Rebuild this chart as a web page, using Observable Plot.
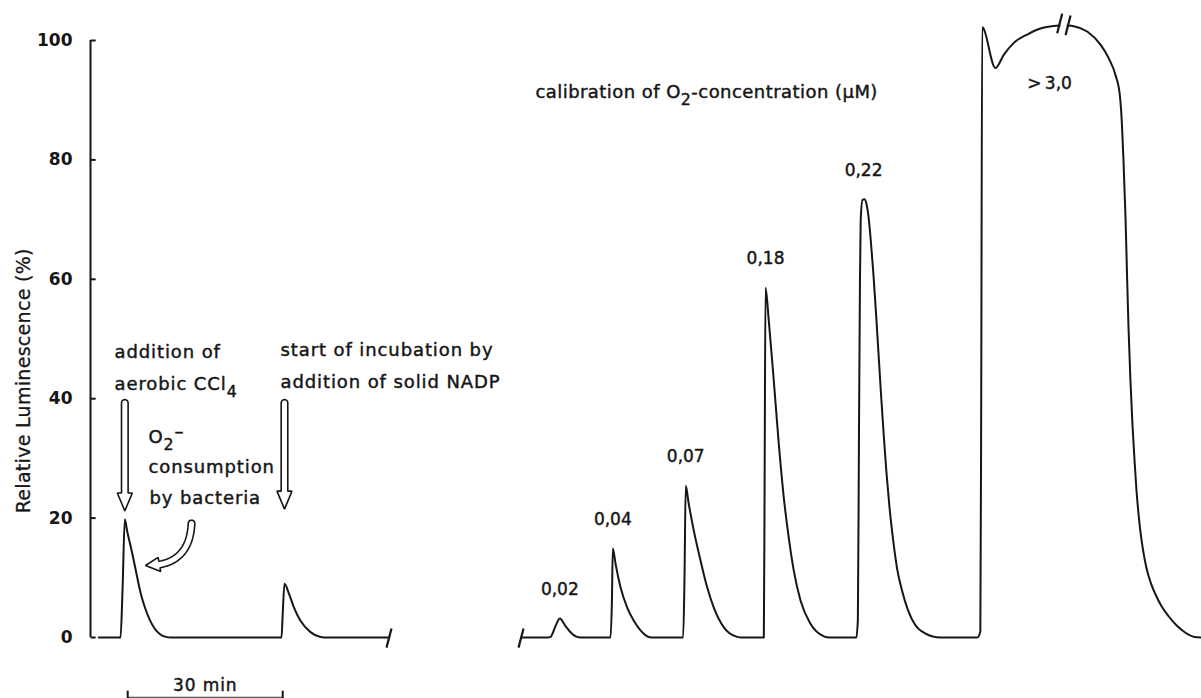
<!DOCTYPE html>
<html><head><meta charset="utf-8">
<script src="https://cdn.jsdelivr.net/npm/d3@7"></script>
<script src="https://cdn.jsdelivr.net/npm/@observablehq/plot@0.6"></script>
<style>
html,body{margin:0;padding:0;background:#fff;}
#chart svg{display:block;overflow:visible;}
</style>
</head><body><div id="chart"></div>
<script>
// ---------- data (x: minutes on recorder time axis, y: relative luminescence %) ----------
const yTicks = [0, 20, 40, 60, 80, 100];
const yTickLabels = ["0", "20", "40", "60", "80", "100"];

const traceLeft = [
  [1.6,0],[5.81,0],[6.2,8],[6.64,19.8],[7.1,17.8],[7.6,15.9],[8.2,13.6],[8.8,11.1],[9.4,8.6],[10.0,6.5],[10.7,4.6],[11.5,2.9],[12.4,1.5],[13.4,0.6],[14.6,0.1],[15.5,0],
  [36.96,0],[37.2,4],[37.54,9.0],[38.38,7.4],[39.34,5.1],[40.64,2.8],[42.57,0.9],[44.51,0.1],[46,0],[57.67,0]
];
const traceRight = [
  [83.41,0],[88.44,0],[89.02,0.1],[89.99,1.9],[90.82,3.2],[91.92,1.9],[93.22,0.6],[94.83,0],
  [100.63,0],[100.9,6],[101.08,14.9],[101.6,12.4],[102.57,8.4],[103.86,5.0],[105.14,2.8],[106.44,1.2],[108.03,0.1],[109,0],
  [114.69,0],[114.95,10],[115.19,25.4],[115.77,22.4],[116.75,17.9],[118.05,12.9],[119.34,8.4],[120.62,5.0],[122.56,1.7],[125.15,0.1],[126,0],
  [130.3,0],[130.45,25],[130.63,58.6],[131.27,53],[132.23,43],[133.2,32.4],[134.17,23.4],[135.13,16.7],[136.1,11.2],[137.4,6.2],[139.33,2.3],[141.91,0.2],[143,0],
  [148.2,0],[148.5,3],[148.72,35],[148.91,60],[149.05,70],[149.4,73.3],[149.78,73.4],[150.17,72.6],[150.56,70.5],[151.0,66.5],[151.5,61],[152.0,54.5],[152.5,47.5],[153.0,40.5],[153.5,34],[154.0,28],[154.6,22],[155.3,16.5],[156.1,11.5],[157.0,8],[158.2,4.6],[159.6,2.1],[161.5,0.7],[164.5,0],
  [171.6,0],[172.2,1],[172.37,40],[172.56,102.2],[175.13,95.4],[176.74,97.6],[178.68,99.6],[181.27,101],[183.84,102],[187.52,102.5]
];
const traceTop = [
  [189.07,102.5],[190.29,102.4],[192.88,101.5],[195.46,99.3],[197.06,97],[198.36,94.2],[199.19,90.9],[199.6,86],[199.9,80],[200.1,75],[200.29,70.5],
  [200.55,62],[200.87,52],[201.25,43],[201.65,35.5],[202.05,29.5],[202.42,24.6],[202.8,20.8],[203.2,17.6],[203.7,14.6],[204.36,11.6],[205.2,9.1],
  [206.1,7.2],[207.3,5.2],[208.6,3.6],[210.2,2.0],[211.9,0.8],[213.6,0.1],[215,0]
];

const peakConc = ["0,02", "0,04", "0,07", "0,18", "0,22"];
const peakTime = [90.82, 101.08, 115.19, 130.63, 149.6];
const peakLum  = [3.2, 14.9, 25.4, 58.6, 73.3];

// text annotations [x (min), y (%), text]
const notesLeftAligned = [
  [4.64, 47.7, "addition of"],
  [4.64, 42.5, "aerobic CCl₄"],
  [36.77, 48.1, "start of incubation by"],
  [36.77, 42.7, "addition of solid NADP"],
  [11.22, 33.6, "O₂⁻"],
  [11.22, 28.5, "consumption"],
  [11.4, 23.3, "by bacteria"],
  [86.1, 91.4, "calibration of O₂-concentration (μM)"]
];
const overLabel = [[185.6, 92.8, ">\u20093,0"]];

// hollow arrows: centre lines in data units [x (min), y (%)]
const arrowStraight = [
  [[6.64, 39.3], [6.64, 21.2]],
  [[37.54, 39.3], [37.54, 21.5]]
];
const arrowCurvedCtrl = [[19.55, 19.1], [19.16, 11.9], [10.64, 12.06]];

// broken-axis marks [x1, y1, x2, y2]
const breakMarks = [
  [57.28, -1.7, 58.25, 1.5],
  [82.83, -1.7, 83.8, 1.5],
  [187.07, 101.2, 188.04, 104.5],
  [188.69, 100.9, 189.66, 104.2]
];

// time scale bar (30 min)
const scaleBar = [7.2, 37.2];
const scaleBarLabel = "30 min";

// ---------- layout ----------
const W = 1201, H = 698, mL = 90, mR = 0, mT = 40, mB = 61;
const xDomain = [0, 215], yDomain = [0, 100];
const sx = d3.scaleLinear(xDomain, [mL, W - mR]);
const sy = d3.scaleLinear(yDomain, [H - mB, mT]);

function hollowArrow(ptsPx, hw, HW, HL) {
  const L = [0];
  for (let i = 1; i < ptsPx.length; i++) {
    L.push(L[i-1] + Math.hypot(ptsPx[i][0]-ptsPx[i-1][0], ptsPx[i][1]-ptsPx[i-1][1]));
  }
  const total = L[L.length-1];
  function at(s) {
    let i = 1;
    while (i < L.length - 1 && L[i] < s) i++;
    const a = ptsPx[i-1], b = ptsPx[i];
    const seg = L[i] - L[i-1] || 1;
    const f = Math.max(0, Math.min(1, (s - L[i-1]) / seg));
    const d = [(b[0]-a[0])/seg, (b[1]-a[1])/seg];
    return [[a[0] + (b[0]-a[0])*f, a[1] + (b[1]-a[1])*f], d];
  }
  const base = total - HL, N = 40, left = [], right = [];
  for (let k = 0; k <= N; k++) {
    const [p, d] = at(base * k / N);
    const n = [-d[1], d[0]];
    left.push([p[0] + n[0]*hw, p[1] + n[1]*hw]);
    right.push([p[0] - n[0]*hw, p[1] - n[1]*hw]);
  }
  const [pb, db] = at(base);
  const nb = [-db[1], db[0]];
  const tip = ptsPx[ptsPx.length-1];
  const [p0, d0] = at(0);
  const n0 = [-d0[1], d0[0]];
  const cap = [];
  for (let k = 1; k < 12; k++) {
    const th = Math.PI * k / 12;
    const vx = -n0[0]*Math.cos(th) - d0[0]*Math.sin(th);
    const vy = -n0[1]*Math.cos(th) - d0[1]*Math.sin(th);
    cap.push([p0[0] + vx*hw, p0[1] + vy*hw]);
  }
  const poly = [
    ...left,
    [pb[0] + nb[0]*HW, pb[1] + nb[1]*HW],
    tip,
    [pb[0] - nb[0]*HW, pb[1] - nb[1]*HW],
    ...right.slice().reverse(),
    ...cap,
    left[0]
  ];
  return poly.map(([x, y]) => ({x: sx.invert(x), y: sy.invert(y)}));
}

const arrowPolys = [];
arrowStraight.forEach(c => {
  arrowPolys.push(hollowArrow(c.map(([t, v]) => [sx(t), sy(v)]), 3.3, 7.5, 18));
});
{
  const P = arrowCurvedCtrl.map(([t, v]) => [sx(t), sy(v)]);
  const pts = d3.range(0, 61).map(k => {
    const u = k / 60;
    return [
      (1-u)*(1-u)*P[0][0] + 2*(1-u)*u*P[1][0] + u*u*P[2][0],
      (1-u)*(1-u)*P[0][1] + 2*(1-u)*u*P[1][1] + u*u*P[2][1]
    ];
  });
  arrowPolys.push(hollowArrow(pts, 3.3, 7.2, 14));
}

const ink = "#161616";
const FONT = "DejaVu Sans";
const textInk = {fill: ink, stroke: ink, strokeWidth: 0.45};

const plot = Plot.plot({
  width: W, height: H,
  marginLeft: mL, marginRight: mR, marginTop: mT, marginBottom: mB,
  x: {domain: xDomain, axis: null},
  y: {domain: yDomain, axis: null},
  style: {fontFamily: FONT, background: "white", color: ink, overflow: "visible"},
  marks: [
    // y axis
    Plot.ruleX([0], {y1: 0, y2: 100, stroke: ink, strokeWidth: 2}),
    Plot.link(yTicks, {x1: 0, x2: 1.0, y1: d => d, y2: d => d, stroke: ink, strokeWidth: 2}),
    Plot.text(yTicks, {x: 0, y: d => d, text: (d, i) => yTickLabels[i], textAnchor: "end", dx: -18,
      fontSize: 17, fontWeight: "bold", fill: ink}),
    Plot.text(["Relative Luminescence (%)"], {x: -12.8, y: 43, text: d => d, rotate: -90,
      fontSize: 19, ...textInk, strokeWidth: 0.3}),
    // traces
    Plot.line(traceLeft, {x: d => d[0], y: d => d[1], curve: "monotone-x", stroke: ink, strokeWidth: 2}),
    Plot.line(traceRight, {x: d => d[0], y: d => d[1], curve: "monotone-x", stroke: ink, strokeWidth: 2}),
    Plot.line(traceTop, {x: d => d[0], y: d => d[1], curve: "monotone-x", stroke: ink, strokeWidth: 2}),
    // break marks
    Plot.link(breakMarks, {x1: d => d[0], y1: d => d[1], x2: d => d[2], y2: d => d[3], stroke: ink, strokeWidth: 2.2}),
    // arrows
    ...arrowPolys.map(p => Plot.line(p, {x: "x", y: "y", stroke: ink, strokeWidth: 1.6, strokeLinejoin: "miter"})),
    // peak labels
    Plot.text(peakConc, {x: (d, i) => peakTime[i], y: (d, i) => peakLum[i], text: d => d, dy: -29,
      fontSize: 17, ...textInk}),
    Plot.text(overLabel, {x: d => d[0], y: d => d[1], text: d => d[2], fontSize: 17, ...textInk}),
    // annotations
    Plot.text(notesLeftAligned, {x: d => d[0], y: d => d[1], text: d => d[2], textAnchor: "start",
      fontSize: 18, ...textInk}),
    // scale bar
    Plot.link([scaleBar], {x1: d => d[0], x2: d => d[1], y1: -10.05, y2: -10.05, stroke: "#555", strokeWidth: 1.4}),
    Plot.link(scaleBar, {x1: d => d, x2: d => d, y1: -8.9, y2: -10.3, stroke: ink, strokeWidth: 2}),
    Plot.text([scaleBarLabel], {x: (scaleBar[0] + scaleBar[1]) / 2, y: -8.0, text: d => d, fontSize: 17, ...textInk})
  ]
});

document.getElementById("chart").appendChild(plot);

// letter spacing to mimic the wide plotter lettering
plot.querySelectorAll("text").forEach(t => {
  const s = t.textContent;
  if (s.startsWith("calibration")) t.style.letterSpacing = "0.45px";
  else if (/[a-z]/i.test(s) && !s.startsWith("Relative")) t.style.letterSpacing = "0.9px";
  else if (s.startsWith("Relative")) t.style.letterSpacing = "0.3px";
});

// sub/superscripts as real tspans
(function fixScripts(svg) {
  const subs = {"₂": "2", "₄": "4"}, sups = {"⁻": "–"};
  svg.querySelectorAll("text").forEach(t => {
    const s = t.textContent;
    if (!/[₂₄⁻]/.test(s)) return;
    const fs = parseFloat(getComputedStyle(t).fontSize) || 18;
    const segs = [];
    for (const ch of s) {
      const kind = subs[ch] ? "sub" : sups[ch] ? "sup" : "n";
      const c = subs[ch] || sups[ch] || ch;
      if (segs.length && segs[segs.length-1].kind === kind) segs[segs.length-1].text += c;
      else segs.push({kind, text: c});
    }
    while (t.firstChild) t.removeChild(t.firstChild);
    let cur = 0;
    segs.forEach(sg => {
      const shift = sg.kind === "sub" ? 0.42*fs : sg.kind === "sup" ? -0.3*fs : 0;
      const ts = document.createElementNS("http://www.w3.org/2000/svg", "tspan");
      ts.setAttribute("dy", (shift - cur).toFixed(2));
      if (sg.kind === "sub") ts.setAttribute("font-size", (0.88*fs).toFixed(1));
      ts.textContent = sg.text;
      t.appendChild(ts);
      cur = shift;
    });
  });
})(plot);
</script>
</body></html>
